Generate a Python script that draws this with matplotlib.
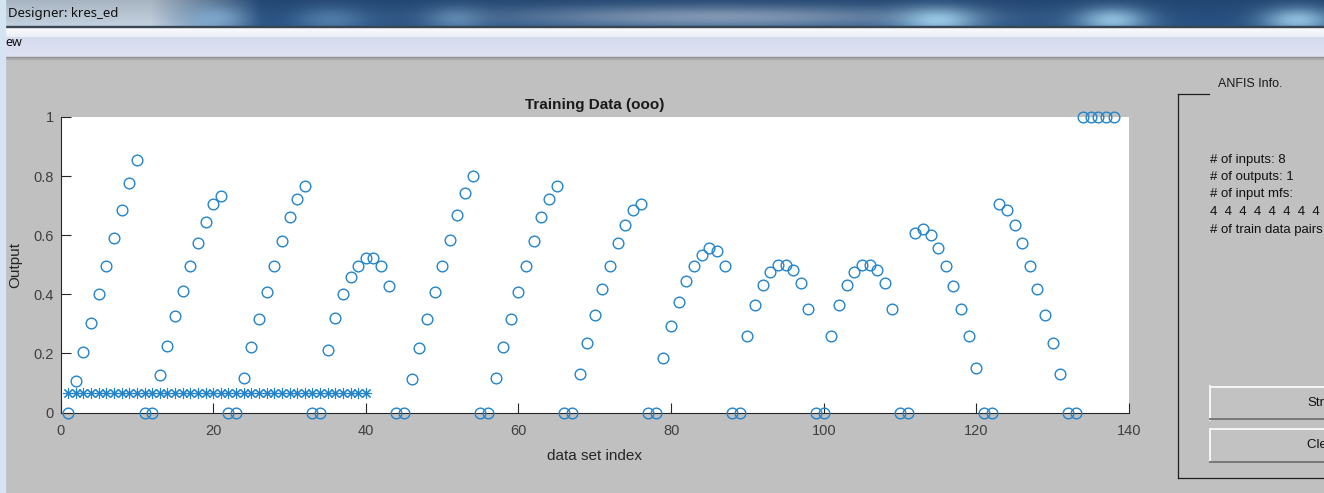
import numpy as np
import matplotlib.pyplot as plt
from matplotlib.patches import Rectangle

plt.rcParams['font.family'] = ['Liberation Sans', 'DejaVu Sans']

W, H = 1324, 493

# training data outputs, one value per data set index (1..138)
train_out = [0, .105, .204, .304, .401, .497, .592, .684, .776, .855,
             0, 0, .126, .225, .325, .412, .497, .575, .646, .704, .734,
             0, 0, .118, .221, .317, .409, .497, .581, .660, .721, .767,
             0, 0, .213, .321, .401, .460, .497, .522, .522, .497, .427,
             0, 0, .115, .218, .315, .409, .497, .585, .667, .743, .801,
             0, 0, .118, .221, .317, .409, .497, .580, .660, .721, .767,
             0, 0, .129, .235, .330, .418, .497, .572, .634, .684, .704,
             0, 0, .184, .292, .375, .446, .497, .534, .555, .546, .497,
             0, 0, .258, .363, .431, .474, .499, .500, .483, .438, .351,
             0, 0, .258, .363, .431, .474, .499, .500, .483, .438, .351,
             0, 0, .606, .622, .600, .555, .497, .429, .351, .258, .152,
             0, 0, .704, .684, .634, .572, .497, .417, .329, .234, .130,
             0, 0, 1, 1, 1, 1, 1]
train_idx = list(range(1, len(train_out) + 1))

# FIS output for the first 40 pairs
fis_out = [0.066, 0.066, 0.066, 0.066, 0.066, 0.066, 0.066, 0.066, 0.066, 0.066,
           0.066, 0.066, 0.066, 0.066, 0.066, 0.066, 0.066, 0.066, 0.066, 0.066,
           0.066, 0.066, 0.066, 0.066, 0.066, 0.066, 0.066, 0.066, 0.066, 0.066,
           0.066, 0.066, 0.066, 0.066, 0.066, 0.066, 0.066, 0.066, 0.066, 0.066]
fis_idx = list(range(1, len(fis_out) + 1))

x_ticks = [0, 20, 40, 60, 80, 100, 120, 140]
y_ticks = [0, 0.2, 0.4, 0.6, 0.8, 1]
y_ticklabels = ['0', '0.2', '0.4', '0.6', '0.8', '1']

info_lines = ['# of inputs: 8', '# of outputs: 1', '# of input mfs:',
              '4  4  4  4  4  4  4  4', '# of train data pairs: 138']

blue = '#2384cb'
gray = '#c0c0c0'

fig = plt.figure(figsize=(W / 100, H / 100), dpi=100)
fig.patch.set_facecolor(gray)

# window chrome in pixel coordinates
bg = fig.add_axes([0, 0, 1, 1])
bg.set_xlim(0, W)
bg.set_ylim(H, 0)
bg.axis('off')

# title bar
xs = np.arange(W)[None, :]
ys = np.arange(27)[:, None]
left_c = np.array([196, 210, 225]) / 255
right_c = np.array([40, 82, 132]) / 255
t = np.clip((xs - 150) / 110.0, 0, 1)[..., None]
bar = left_c * (1 - t) + right_c * t
bar = np.broadcast_to(bar, (27, W, 3)).copy()
blobs = [(215, 17, 22, 9, (140, 188, 228), 0.7),
         (330, 18, 25, 9, (120, 170, 215), 0.5),
         (455, 18, 20, 9, (130, 180, 222), 0.5),
         (720, 16, 150, 8, (185, 200, 218), 0.65),
         (937, 19, 28, 9, (165, 215, 245), 0.9),
         (1112, 19, 25, 9, (165, 215, 245), 0.85),
         (1297, 19, 25, 9, (165, 215, 245), 0.85)]
for cx, cy, sx, sy, col, a in blobs:
    w = a * np.exp(-0.5 * ((xs - cx) / sx) ** 2 - 0.5 * ((ys - cy) / sy) ** 2)
    bar = bar * (1 - w[..., None]) + (np.array(col) / 255) * w[..., None]
shade = np.linspace(0.86, 1.0, 27)[:, None, None]
bar = np.clip(bar * shade, 0, 1)
bg.imshow(bar, extent=[0, W, 27, 0], aspect='auto', zorder=1)
bg.add_patch(Rectangle((0, 26), W, 1.2, color='#3a4552', zorder=2))

# menu bar
menu = np.zeros((30, 1, 3))
menu[:10, 0] = np.linspace([250, 251, 253], [236, 239, 247], 10) / 255
menu[10:, 0] = np.linspace([214, 219, 238], [222, 226, 243], 20) / 255
bg.imshow(menu, extent=[0, W, 57, 27], aspect='auto', zorder=1)
bg.add_patch(Rectangle((0, 57), W, 1, color='#8c8c8c', zorder=2))
bg.add_patch(Rectangle((0, 58), W, 1, color='#aaaaaa', zorder=2))

# left edge of the desktop
bg.add_patch(Rectangle((0, 0), 5, H, color='#d5e4f3', zorder=3))

bg.text(8, 13, 'Designer: kres_ed', fontsize=9.5, color='#111111',
        family=['Noto Sans', 'DejaVu Sans'], va='center', ha='left', zorder=4)
bg.text(5, 42, 'ew', fontsize=9, color='#111111',
        family=['Noto Sans', 'DejaVu Sans'], va='center', ha='left', zorder=4)

# ANFIS Info. frame
fc = '#1e1e1e'
bg.plot([1177.5, 1177.5], [93.5, 477.5], color=fc, lw=0.9, zorder=2)
bg.plot([1177.5, 1209], [93.5, 93.5], color=fc, lw=0.9, zorder=2)
bg.plot([1177.5, W], [477.5, 477.5], color=fc, lw=0.9, zorder=2)
bg.text(1218, 84, 'ANFIS Info.', fontsize=9, color='#1a1a1a',
        va='center', ha='left', zorder=4)
for i, line in enumerate(info_lines):
    bg.text(1210, 159.5 + i * 17.5, line, fontsize=9.5, color='#111111',
            va='center', ha='left', zorder=4)

# buttons
for top, label in [(386, 'Structure'), (428.5, 'Clear Plot')]:
    bg.add_patch(Rectangle((1209.5, top), 130, 33.5, facecolor='#c2c2c2',
                           edgecolor='none', zorder=2))
    bg.plot([1209.5, W], [top + 0.8, top + 0.8], color='#f6f6f6', lw=1.4, zorder=3)
    bg.plot([1210.3, 1210.3], [top, top + 33.5], color='#f6f6f6', lw=1.4, zorder=3)
    bg.plot([1209.5, W], [top + 33, top + 33], color='#777777', lw=1.4, zorder=3)
    bg.text(1307, top + 17, label, fontsize=9.5, color='#111111',
            va='center', ha='left', zorder=4)

# training data plot
ax = fig.add_axes([60.6 / W, (H - 412.5) / H, (1129 - 60.6) / W, (412.5 - 117) / H])
ax.set_facecolor('white')
ax.plot(train_idx, train_out, 'o', mfc='none', mec=blue, ms=7.7, mew=1.0,
        clip_on=False, zorder=3)
ax.plot(fis_idx, fis_out, linestyle='none', marker=(8, 2, 0), color=blue,
        ms=8, mew=0.8, clip_on=False, zorder=3)
ax.set_xlim(0, 140)
ax.set_ylim(0, 1)
ax.set_xticks(x_ticks)
ax.set_yticks(y_ticks)
ax.set_yticklabels(y_ticklabels)
for s in ['top', 'right']:
    ax.spines[s].set_visible(False)
for s in ['left', 'bottom']:
    ax.spines[s].set_color('#262626')
    ax.spines[s].set_linewidth(0.8)
ax.tick_params(direction='in', length=7, width=0.8, color='#262626',
               labelcolor='#404040', labelsize=10.5)
ax.tick_params(axis='x', pad=8)
ax.tick_params(axis='y', pad=5)
ax.set_title('Training Data (ooo)', fontsize=11, fontweight='bold',
             color='#1a1a1a', pad=6)
ax.set_xlabel('data set index', fontsize=11, color='#262626', labelpad=8)
ax.set_ylabel('Output', fontsize=11, color='#262626', labelpad=8)

fig.savefig('out.png', dpi=100, facecolor=fig.get_facecolor())
